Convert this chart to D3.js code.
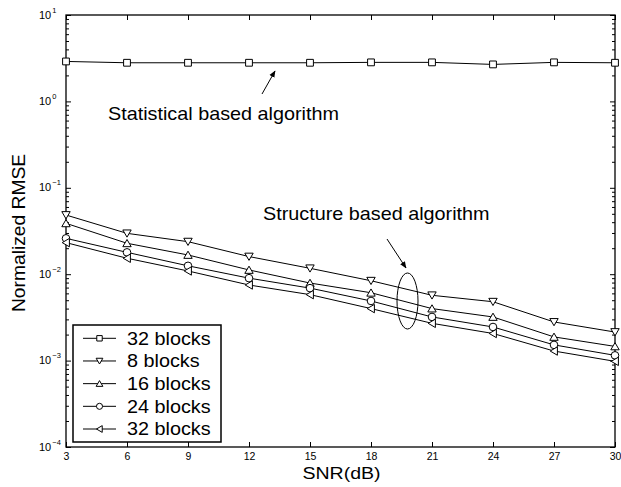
<!DOCTYPE html>
<html><head><meta charset="utf-8">
<script src="https://cdn.jsdelivr.net/npm/d3@7"></script>
<style>body{margin:0;background:#fff}svg{display:block}</style>
</head><body><svg id="c" width="621" height="487"></svg>
<script>
// ---- data ----
const snr = [3, 6, 9, 12, 15, 18, 21, 24, 27, 30];
const statistical32 = [2.9, 2.8, 2.8, 2.8, 2.8, 2.83, 2.83, 2.68, 2.83, 2.8];
const structure8  = [0.0484, 0.0297, 0.0238, 0.0160, 0.0117, 0.0084, 0.0057, 0.0048, 0.0028, 0.00214];
const structure16 = [0.0388, 0.0228, 0.0167, 0.0112, 0.0079, 0.0061, 0.0040, 0.0032, 0.00188, 0.00146];
const structure24 = [0.0260, 0.0179, 0.0125, 0.0090, 0.0069, 0.0049, 0.0032, 0.00245, 0.00152, 0.00115];
const structure32 = [0.0232, 0.0153, 0.0109, 0.0075, 0.0058, 0.0040, 0.0027, 0.00206, 0.00129, 0.00098];
const legendLabels = ["32 blocks", "8 blocks", "16 blocks", "24 blocks", "32 blocks"];
const markerNames = ["square", "down", "up", "circle", "left"];
const xTickValues = [3, 6, 9, 12, 15, 18, 21, 24, 27, 30];
const yExponents = [1, 0, -1, -2, -3, -4];
const xLabel = "SNR(dB)";
const yLabel = "Normalized RMSE";
const noteStatistical = "Statistical based algorithm";
const noteStructure = "Structure based algorithm";

const seriesList = [statistical32, structure8, structure16, structure24, structure32];

// ---- layout ----
const L = 66, T = 15, R = 615, B = 447;
const FONT = "'Liberation Sans', Arial, Helvetica, sans-serif";
const svg = d3.select("#c");
const x = d3.scaleLinear().domain([3, 30]).range([L, R]);
const y = d3.scaleLog().domain([1e-4, 10]).range([B, T]);

function markerPath(type, s) {
  const p = d3.path();
  if (type === "square") { p.rect(-s, -s, 2 * s, 2 * s); }
  else if (type === "down") { p.moveTo(-s * 1.05, -s * 0.85); p.lineTo(s * 1.05, -s * 0.85); p.lineTo(0, s * 0.95); p.closePath(); }
  else if (type === "up") { p.moveTo(-s * 1.05, s * 0.85); p.lineTo(s * 1.05, s * 0.85); p.lineTo(0, -s * 0.95); p.closePath(); }
  else if (type === "left") { p.moveTo(-s * 0.95, 0); p.lineTo(s * 0.85, -s * 1.05); p.lineTo(s * 0.85, s * 1.05); p.closePath(); }
  else if (type === "circle") { p.arc(0, 0, s, 0, 2 * Math.PI); p.closePath(); }
  return p.toString();
}
const markerSize = {square: 3.4, down: 4, up: 4, circle: 3.8, left: 4};

// ---- axes (ticks inward) ----
const minorVals = [];
for (let e = -4; e < 1; e++) for (let m = 2; m <= 9; m++) minorVals.push(m * Math.pow(10, e));
const majorVals = yExponents.map(e => Math.pow(10, e));

function styleAxis(g) {
  g.select(".domain").remove();
  g.selectAll("line").attr("stroke", "#000").attr("stroke-width", 1);
}
svg.append("g").attr("transform", `translate(0,${B})`)
  .call(d3.axisBottom(x).tickValues(xTickValues).tickSize(-5).tickPadding(6).tickFormat(d3.format("d")))
  .call(styleAxis)
  .selectAll("text").attr("font-family", FONT).attr("font-size", 10.5).attr("fill", "#000");
svg.append("g").attr("transform", `translate(0,${T})`)
  .call(d3.axisTop(x).tickValues(xTickValues).tickSize(-5).tickFormat(""))
  .call(styleAxis);
svg.append("g").attr("transform", `translate(${L},0)`)
  .call(d3.axisLeft(y).tickValues(majorVals).tickSize(-5).tickFormat(""))
  .call(styleAxis);
svg.append("g").attr("transform", `translate(${L},0)`)
  .call(d3.axisLeft(y).tickValues(minorVals).tickSize(-3).tickFormat(""))
  .call(styleAxis);
svg.append("g").attr("transform", `translate(${R},0)`)
  .call(d3.axisRight(y).tickValues(majorVals).tickSize(-5).tickFormat(""))
  .call(styleAxis);
svg.append("g").attr("transform", `translate(${R},0)`)
  .call(d3.axisRight(y).tickValues(minorVals).tickSize(-3).tickFormat(""))
  .call(styleAxis);

// y tick labels 10^e
const yl = svg.append("g").attr("font-family", FONT).attr("fill", "#000");
yExponents.forEach(e => {
  const t = yl.append("text").attr("x", 39).attr("y", y(Math.pow(10, e)) + 3.5).attr("font-size", 11);
  t.append("tspan").text("10");
  t.append("tspan").attr("dy", -6).attr("dx", 1).attr("font-size", 7.5).text(e < 0 ? "\u2212" + (-e) : String(e));
});

// frame
svg.append("rect").attr("x", L).attr("y", T).attr("width", R - L).attr("height", B - T)
  .attr("fill", "none").attr("stroke", "#000").attr("stroke-width", 1.3);

// ---- series ----
const line = d3.line().x((d, i) => x(snr[i])).y(d => y(d));
const plot = svg.append("g");
seriesList.forEach((vals, k) => {
  plot.append("path").attr("d", line(vals)).attr("fill", "none").attr("stroke", "#000").attr("stroke-width", 1);
});
seriesList.forEach((vals, k) => {
  const m = markerNames[k];
  plot.selectAll(null).data(vals).join("path")
    .attr("transform", (d, i) => `translate(${x(snr[i])},${y(d)})`)
    .attr("d", markerPath(m, markerSize[m]))
    .attr("fill", "#fff").attr("stroke", "#000").attr("stroke-width", 1);
});

// ---- annotations ----
const defs = svg.append("defs");
defs.append("marker").attr("id", "ah").attr("viewBox", "0 0 10 10").attr("refX", 9).attr("refY", 5)
  .attr("markerWidth", 7).attr("markerHeight", 7).attr("orient", "auto").attr("markerUnits", "userSpaceOnUse")
  .append("path").attr("d", "M0,1 L10,5 L0,9 Z").attr("fill", "#000");

function stretchText(txt, px, py, size, sx) {
  svg.append("text").attr("transform", `translate(${px},${py}) scale(${sx},1)`)
    .attr("font-family", FONT).attr("font-size", size).attr("fill", "#000").text(txt);
}
stretchText(noteStatistical, 108, 120, 18, 1.1);
svg.append("line").attr("x1", 262).attr("y1", 94).attr("x2", 275).attr("y2", 71)
  .attr("stroke", "#000").attr("stroke-width", 1).attr("marker-end", "url(#ah)");

stretchText(noteStructure, 263, 220, 18, 1.1);
svg.append("line").attr("x1", 387).attr("y1", 239).attr("x2", 406).attr("y2", 268)
  .attr("stroke", "#000").attr("stroke-width", 1).attr("marker-end", "url(#ah)");
svg.append("ellipse").attr("cx", 407.5).attr("cy", 301).attr("rx", 10.5).attr("ry", 28)
  .attr("fill", "none").attr("stroke", "#000").attr("stroke-width", 1);

// ---- axis titles ----
svg.append("text").attr("transform", `translate(${(L + R) / 2 + 1},478.5) scale(1.15,1)`)
  .attr("text-anchor", "middle").attr("font-family", FONT).attr("font-size", 17).attr("fill", "#000").text(xLabel);
svg.append("text").attr("transform", `translate(25,233) rotate(-90) scale(1.04,1)`)
  .attr("text-anchor", "middle").attr("font-family", FONT).attr("font-size", 18.5).attr("fill", "#000").text(yLabel);

// ---- legend ----
const lg = svg.append("g");
lg.append("rect").attr("x", 73).attr("y", 325).attr("width", 148).attr("height", 117)
  .attr("fill", "#fff").attr("stroke", "#000").attr("stroke-width", 1.5);
const legendY = d3.scaleLinear().domain([0, 4]).range([338.3, 429]);
legendLabels.forEach((lab, k) => {
  const cy = legendY(k);
  lg.append("line").attr("x1", 83).attr("x2", 116).attr("y1", cy).attr("y2", cy).attr("stroke", "#000").attr("stroke-width", 1);
  const m = markerNames[k];
  lg.append("path").attr("transform", `translate(99.5,${cy})`).attr("d", markerPath(m, markerSize[m] * 0.8))
    .attr("fill", "#fff").attr("stroke", "#000").attr("stroke-width", 1);
  lg.append("text").attr("transform", `translate(127,${cy + 6.3}) scale(1.1,1)`)
    .attr("font-family", FONT).attr("font-size", 18).attr("fill", "#000").text(lab);
});
</script></body></html>
